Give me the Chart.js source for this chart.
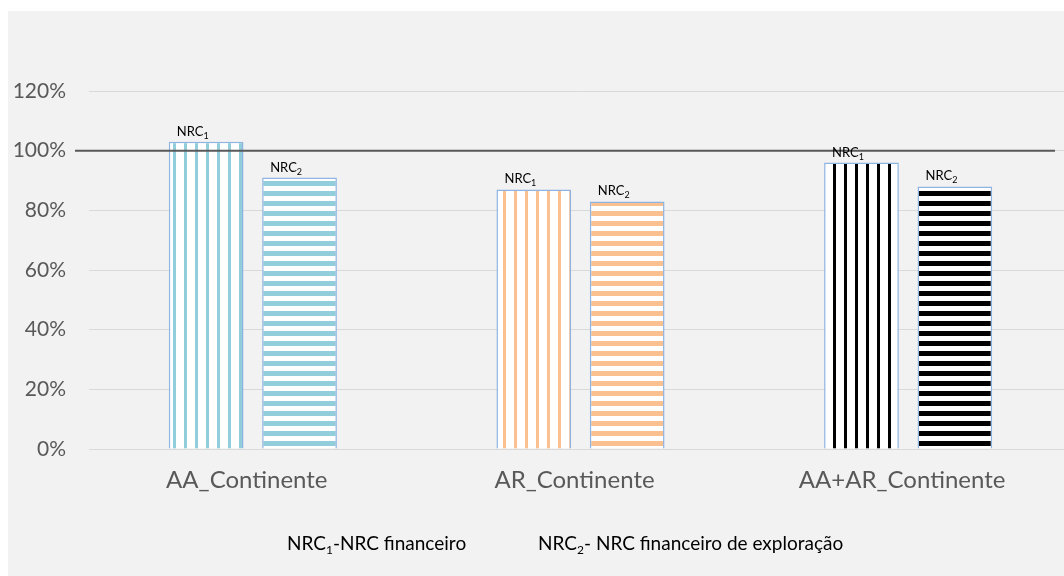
<!DOCTYPE html>
<html>
<head>
<meta charset="utf-8">
<script src="https://cdn.jsdelivr.net/npm/chart.js@4/dist/chart.umd.min.js"></script>
<style>
  html, body { margin: 0; padding: 0; background: #fff; overflow: hidden; width: 1064px; height: 576px; }
  #wrap { position: absolute; left: 8px; top: 11px; width: 1056px; height: 565px; background: #f2f2f2; overflow: hidden; }
  #chart { position: absolute; left: 0; top: 0; }
  .leg { position: absolute; top: 520px; font-family: Lato, sans-serif; font-size: 19px; color: #000; white-space: nowrap; }
  .leg sub { font-size: 12px; vertical-align: -4px; line-height: 0; }
</style>
</head>
<body>
<div id="wrap">
  <canvas id="chart" width="1064" height="565"></canvas>
  <div class="leg" style="left:279px">NRC<sub>1</sub>-NRC financeiro</div>
  <div class="leg" style="left:530px">NRC<sub>2</sub>- NRC financeiro de exploração</div>
</div>
<script>
// dados
var categorias = ['AA_Continente', 'AR_Continente', 'AA+AR_Continente'];
var nrc1 = [1.03, 0.87, 0.96];
var nrc2 = [0.91, 0.83, 0.88];
var linhaRef = 1.0;
var yTicks = [0, 0.2, 0.4, 0.6, 0.8, 1.0, 1.2];

// padrões de riscas (como no Excel)
function riscas(cor, vertical, periodo, largura) {
    var c = document.createElement('canvas');
    c.width = vertical ? periodo : 4;
    c.height = vertical ? 4 : periodo;
    var g = c.getContext('2d');
    g.fillStyle = '#ffffff';
    g.fillRect(0, 0, c.width, c.height);
    g.fillStyle = cor;
    if (vertical) g.fillRect(0, 0, largura, c.height);
    else g.fillRect(0, 0, c.width, largura);
    return document.getElementById('chart').getContext('2d').createPattern(c, 'repeat');
}

var azulV = riscas('#92cddc', true, 11, 3);
var laranjaV = riscas('#fac090', true, 11, 3);
var pretoV = riscas('#000000', true, 11, 3);
var azulH = riscas('#92cddc', false, 10, 5);
var laranjaH = riscas('#fac090', false, 10, 5);
var pretoH = riscas('#000000', false, 10, 5);

// linha de referência 100% e rótulos NRC
var extras = {
    id: 'extras',
    afterDatasetsDraw: function (chart) {
        var ctx = chart.ctx;
        var area = chart.chartArea;
        var y = chart.scales.y.getPixelForValue(linhaRef);
        ctx.save();
        ctx.strokeStyle = '#595959';
        ctx.lineWidth = 2;
        ctx.beginPath();
        ctx.moveTo(area.left - 14, y);
        ctx.lineTo(area.right - 17, y);
        ctx.stroke();

        ctx.fillStyle = '#000';
        ctx.textBaseline = 'alphabetic';
        chart.data.datasets.forEach(function (ds, di) {
            var meta = chart.getDatasetMeta(di);
            meta.data.forEach(function (bar) {
                var x = bar.x - bar.width / 2 + 8;
                var by = bar.y - 6;
                ctx.font = '13px Lato';
                ctx.fillText('NRC', x, by);
                var w = ctx.measureText('NRC').width;
                ctx.font = '9px Lato';
                ctx.fillText(String(di + 1), x + w, by + 3);
            });
        });
        ctx.restore();
    }
};

var ctx = document.getElementById('chart').getContext('2d');
var grafico = new Chart(ctx, {
    type: 'bar',
    data: {
        labels: categorias,
        datasets: [{
            label: 'NRC1',
            data: nrc1,
            backgroundColor: [azulV, laranjaV, pretoV],
            borderColor: '#8eb4e3',
            borderWidth: 1.5
        }, {
            label: 'NRC2',
            data: nrc2,
            backgroundColor: [azulH, laranjaH, pretoH],
            borderColor: '#8eb4e3',
            borderWidth: 1.5
        }]
    },
    options: {
        responsive: false,
        animation: false,
        categoryPercentage: 0.57,
        barPercentage: 0.8,
        layout: { padding: { top: 80, left: 0, right: 0, bottom: 0 } },
        plugins: { legend: { display: false }, tooltip: { enabled: false } },
        scales: {
            x: {
                grid: { display: false },
                border: { display: true, color: '#d9d9d9', width: 1 },
                ticks: { color: '#595959', font: { family: 'Lato', size: 24 }, padding: 9, labelOffset: -6 },
                afterFit: function (s) { s.height = 127; }
            },
            y: {
                min: 0,
                max: 1.2,
                afterBuildTicks: function (s) { s.ticks = yTicks.map(function (v) { return { value: v }; }); },
                grid: { color: '#d9d9d9', drawTicks: false },
                border: { display: false },
                ticks: {
                    color: '#595959',
                    font: { family: 'Lato', size: 21 },
                    padding: 23,
                    callback: function (v) { return Math.round(v * 100) + '%'; }
                },
                afterFit: function (s) { s.width = 81; }
            }
        }
    },
    plugins: [extras]
});
</script>
</body>
</html>
